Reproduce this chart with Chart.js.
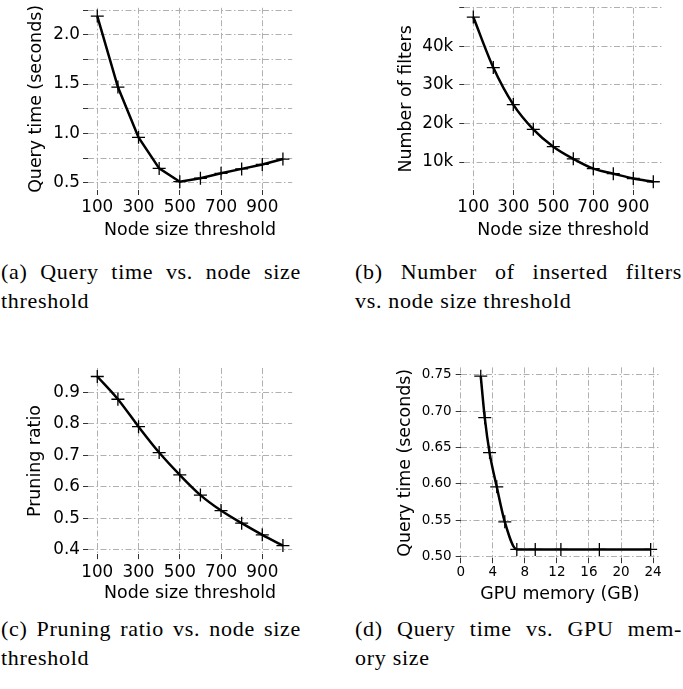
<!DOCTYPE html>
<html lang="en">
<head>
<meta charset="UTF-8">
<title>Node size threshold study</title>
<script src="https://cdn.jsdelivr.net/npm/chart.js"></script>
<style>
  body { margin: 0; background: #fff; width: 683px; height: 689px; position: relative; overflow: hidden; }
  canvas { position: absolute; }
  .cap { position: absolute; font-family: 'Liberation Serif', serif; font-size: 22px; letter-spacing: 0.7px; line-height: 29px; color: #000; }
  .cap .l1 { text-align: justify; text-align-last: justify; white-space: nowrap; }
</style>
</head>
<body>
<canvas id="chartA" width="300" height="250" style="left:0;top:0"></canvas>
<canvas id="chartB" width="343" height="250" style="left:340px;top:0"></canvas>
<canvas id="chartC" width="300" height="270" style="left:0;top:340px"></canvas>
<canvas id="chartD" width="343" height="270" style="left:340px;top:340px"></canvas>

<div class="cap" style="left:1px;top:257px;width:300px"><div class="l1">(a) Query time vs. node size</div><div>threshold</div></div>
<div class="cap" style="left:355px;top:257px;width:327px"><div class="l1">(b) Number of inserted filters</div><div>vs. node size threshold</div></div>
<div class="cap" style="left:1px;top:614px;width:300px"><div class="l1">(c) Pruning ratio vs. node size</div><div>threshold</div></div>
<div class="cap" style="left:355px;top:614px;width:327px"><div class="l1">(d) Query time vs. GPU mem-</div><div>ory size</div></div>

<script>
// data
const nodeSizes = [100, 200, 300, 400, 500, 600, 700, 800, 900, 1000];
const queryTimes = [2.19, 1.47, 0.96, 0.645, 0.51, 0.545, 0.595, 0.64, 0.685, 0.74];
const filterCounts = [47600, 34500, 24900, 18500, 14000, 10850, 8300, 7000, 5750, 4900];
const pruningRatios = [0.95, 0.878, 0.791, 0.709, 0.638, 0.574, 0.525, 0.485, 0.448, 0.414];
const gpuMemory = [2.5, 3.0, 3.6, 4.5, 5.5, 7.0, 9.3, 12.5, 17.3, 23.7];
const gpuQueryTimes = [0.748, 0.691, 0.643, 0.596, 0.548, 0.51, 0.51, 0.51, 0.51, 0.51];

// ticks and their labels
const nodeTicks = [100, 300, 500, 700, 900];
const nodeLabels = ['100', '300', '500', '700', '900'];
const queryTicks = [0.5, 0.75, 1.0, 1.25, 1.5, 1.75, 2.0, 2.25];
const queryLabels = ['0.5', '', '1.0', '', '1.5', '', '2.0', ''];
const filterTicks = [10000, 20000, 30000, 40000, 50000];
const filterLabels = ['10k', '20k', '30k', '40k', ''];
const pruningTicks = [0.4, 0.5, 0.6, 0.7, 0.8, 0.9];
const pruningLabels = ['0.4', '0.5', '0.6', '0.7', '0.8', '0.9'];
const gpuTicks = [0, 4, 8, 12, 16, 20, 24];
const gpuLabels = ['0', '4', '8', '12', '16', '20', '24'];
const gpuQueryTicks = [0.50, 0.55, 0.60, 0.65, 0.70, 0.75];
const gpuQueryLabels = ['0.50', '0.55', '0.60', '0.65', '0.70', '0.75'];

Chart.defaults.font.family = "'DejaVu Sans', sans-serif";
Chart.defaults.color = '#000';

function axis(o) {
  return {
    type: 'linear',
    min: o.min,
    max: o.max,
    afterBuildTicks: s => { s.ticks = o.ticks.map(v => ({ value: v })); },
    afterFit: s => {
      if (s.isHorizontal()) { s.height = o.size; s.paddingLeft = 0; s.paddingRight = 0; }
      else { s.width = o.size; s.paddingTop = 0; s.paddingBottom = 0; }
    },
    ticks: {
      autoSkip: false, maxRotation: 0, padding: o.pad, color: '#000',
      font: { size: o.tickSize || 16.8 },
      callback: (v, i) => o.labels[i]
    },
    grid: { color: '#b0b0b0', lineWidth: 1, tickLength: 5, tickColor: '#333', tickWidth: 1 },
    border: { display: false, dash: [6, 2.5, 1.5, 2.5] },
    title: { display: true, text: o.title, color: '#000', font: { size: 17.4 }, padding: o.titlePad }
  };
}

function makeChart(id, xs, ys, opts) {
  return new Chart(document.getElementById(id), {
    type: 'line',
    data: {
      datasets: [{
        data: xs.map((x, i) => ({ x: x, y: ys[i] })),
        borderColor: '#000',
        borderWidth: 2.5,
        pointStyle: 'cross',
        pointRadius: 6.5,
        pointBorderWidth: 1.3,
        pointBorderColor: '#000',
        fill: false,
        tension: opts.smooth ? 0.4 : 0,
        cubicInterpolationMode: opts.smooth ? 'monotone' : 'default'
      }]
    },
    options: {
      responsive: false,
      animation: false,
      layout: { padding: opts.padding },
      plugins: { legend: { display: false }, tooltip: { enabled: false } },
      scales: { x: opts.x, y: opts.y }
    }
  });
}

makeChart('chartA', nodeSizes, queryTimes, {
  smooth: false,
  padding: { top: 5, right: 7, left: 0, bottom: 0 },
  x: axis({ min: 55, max: 1045, ticks: nodeTicks, labels: nodeLabels, size: 60, pad: 3,
            title: 'Node size threshold', titlePad: { top: 0, bottom: 8.8 } }),
  y: axis({ min: 0.426, max: 2.274, ticks: queryTicks, labels: queryLabels, size: 88, pad: 3,
            title: 'Query time (seconds)', titlePad: { top: 25.6, bottom: 0 } })
});

makeChart('chartB', nodeSizes, filterCounts, {
  smooth: true,
  padding: { top: 5, right: 20.7, left: 0, bottom: 0 },
  x: axis({ min: 55, max: 1045, ticks: nodeTicks, labels: nodeLabels, size: 60, pad: 3,
            title: 'Node size threshold', titlePad: { top: 0, bottom: 8.8 } }),
  y: axis({ min: 2765, max: 50000, ticks: filterTicks, labels: filterLabels, size: 124.3, pad: 6,
            title: 'Number of filters', titlePad: { top: 55.9, bottom: 0 } })
});

makeChart('chartC', nodeSizes, pruningRatios, {
  smooth: true,
  padding: { top: 28, right: 7, left: 0, bottom: 0 },
  x: axis({ min: 55, max: 1045, ticks: nodeTicks, labels: nodeLabels, size: 55.9, pad: 3,
            title: 'Node size threshold', titlePad: { top: 0, bottom: 6.4 } }),
  y: axis({ min: 0.387, max: 0.977, ticks: pruningTicks, labels: pruningLabels, size: 88, pad: 3,
            title: 'Pruning ratio', titlePad: { top: 24.6, bottom: 0 } })
});

makeChart('chartD', gpuMemory, gpuQueryTimes, {
  smooth: true,
  padding: { top: 27.4, right: 24, left: 0, bottom: 0 },
  x: axis({ min: 0, max: 24.74, ticks: gpuTicks, labels: gpuLabels, size: 51.8, pad: 1, tickSize: 13.5,
            title: 'GPU memory (GB)', titlePad: { top: 0, bottom: 5.4 } }),
  y: axis({ min: 0.498, max: 0.760, ticks: gpuQueryTicks, labels: gpuQueryLabels, size: 120.7, pad: 4, tickSize: 13.5,
            title: 'Query time (seconds)', titlePad: { top: 54.6, bottom: 0 } })
});
</script>
</body>
</html>
